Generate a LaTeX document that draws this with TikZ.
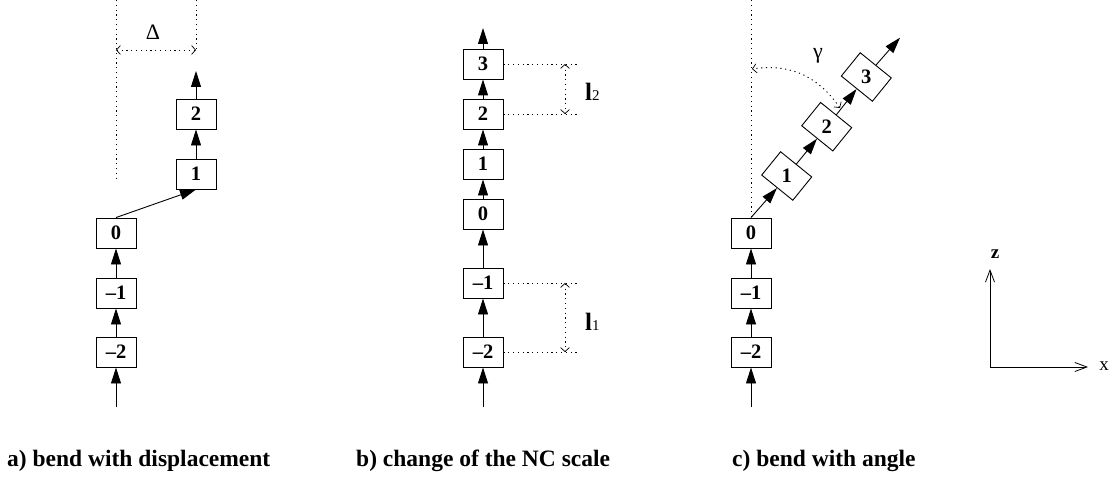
\documentclass[tikz,border=0pt]{standalone}
\usepackage{fontspec}
\setmainfont{Liberation Serif}
\usetikzlibrary{arrows.meta}
\tikzset{
  nc/.style={draw, line width=0.9pt, minimum width=40pt, minimum height=30pt, inner sep=0pt,
    font=\bfseries\fontsize{20.5}{20.5}\selectfont},
  nctext/.style={inner sep=0pt, font=\bfseries\fontsize{20.5}{20.5}\selectfont},
  linkarr/.style={line width=0.9pt, -{Triangle[length=16pt,width=10pt]}},
  guide/.style={line width=0.9pt, dash pattern=on 1.2pt off 3.6pt},
  dimarr/.style={guide, {Straight Barb[length=4pt,width=9pt,line width=0.7pt]}-{Straight Barb[length=4pt,width=9pt,line width=0.7pt]}},
  axisarr/.style={line width=0.9pt, -{Straight Barb[length=12pt,width=9pt,line width=0.8pt]}},
  captxt/.style={anchor=base west, inner sep=0pt, font=\bfseries\fontsize{23.5}{24}\selectfont},
  lab/.style={inner sep=0pt, font=\fontsize{22}{22}\selectfont}
}
\begin{document}
\begin{tikzpicture}[x=1pt,y=-1pt]
\useasboundingbox (0,0) rectangle (1115,476);

% ---------- panel a ----------
\node[nc] (am2) at (116,352) {--2};
\node[nc] (am1) at (116,293) {--1};
\node[nc] (a0)  at (116,233) {0};
\node[nc] (a1)  at (196,174) {1};
\node[nc] (a2)  at (196,114) {2};
\coordinate (abot) at (116,407);
\coordinate (atop) at (196,71);
\draw[linkarr] (abot) -- (am2.south);
\draw[linkarr] (am2) -- (am1);
\draw[linkarr] (am1) -- (a0);
\draw[linkarr] (a0.north) -- (a1.south);
\draw[linkarr] (a1) -- (a2);
\draw[linkarr] (a2.north) -- (atop);
\coordinate (aL0) at (116,0);
\coordinate (aL1) at (116,178);
\coordinate (aR0) at (196,0);
\coordinate (aR1) at (196,50);
\coordinate (aD0) at (116,50);
\draw[guide] (aL0) -- (aL1);
\draw[guide] (aR0) -- (aR1);
\draw[dimarr] (aD0) -- (aR1);
\node[lab] (delta) at (153,32) {Δ};
\node[captxt] (capa) at (7,466) {a) bend with displacement};

% ---------- panel b ----------
\node[nc] (bm2) at (483,352) {--2};
\node[nc] (bm1) at (483,283) {--1};
\node[nc] (b0)  at (483,214) {0};
\node[nc] (b1)  at (483,164) {1};
\node[nc] (b2)  at (483,114) {2};
\node[nc] (b3)  at (483,64)  {3};
\coordinate (bbot) at (483,407);
\coordinate (btop) at (483,28);
\draw[linkarr] (bbot) -- (bm2.south);
\draw[linkarr] (bm2) -- (bm1);
\draw[linkarr] (bm1) -- (b0);
\draw[linkarr] (b0) -- (b1);
\draw[linkarr] (b1) -- (b2);
\draw[linkarr] (b2) -- (b3);
\draw[linkarr] (b3.north) -- (btop);
\coordinate (g3) at (578,64);
\coordinate (g2) at (578,114);
\coordinate (gm1) at (578,283);
\coordinate (gm2) at (578,352);
\coordinate (d3) at (565,64);
\coordinate (d2) at (565,114);
\coordinate (dm1) at (565,283);
\coordinate (dm2) at (565,352);
\draw[guide] (b3.east) -- (g3);
\draw[guide] (b2.east) -- (g2);
\draw[guide] (bm1.east) -- (gm1);
\draw[guide] (bm2.east) -- (gm2);
\draw[dimarr] (d3) -- (d2);
\draw[dimarr] (dm1) -- (dm2);
\node[lab, anchor=base west] (l2) at (585,101) {{\fontsize{25}{25}\selectfont\textbf{l}}{\fontsize{15}{15}\selectfont 2}};
\node[lab, anchor=base west] (l1) at (585,330) {{\fontsize{25}{25}\selectfont\textbf{l}}{\fontsize{15}{15}\selectfont 1}};
\node[captxt] (capb) at (356,466) {b) change of the NC scale};

% ---------- panel c ----------
\node[nc] (cm2) at (751,352) {--2};
\node[nc] (cm1) at (751,293) {--1};
\node[nc] (c0)  at (751,233) {0};
\node[nc, rotate=-39] (c1) at (786.7,176) {};
\node[nc, rotate=-39] (c2) at (826.7,126.7) {};
\node[nc, rotate=-39] (c3) at (866.3,77) {};
\node[nctext] (t1) at (c1) {1};
\node[nctext] (t2) at (c2) {2};
\node[nctext] (t3) at (c3) {3};
\coordinate (cbot) at (751,407);
\coordinate (ctop) at (900,37.7);
\draw[linkarr] (cbot) -- (cm2.south);
\draw[linkarr] (cm2) -- (cm1);
\draw[linkarr] (cm1) -- (c0);
\draw[linkarr] (c0.north) -- (c1.south);
\draw[linkarr] (c1.north) -- (c2.south);
\draw[linkarr] (c2.north) -- (c3.south);
\draw[linkarr] (c3.north) -- (ctop);
\coordinate (cv0) at (751,0);
\draw[guide] (cv0) -- (c0.north);
\coordinate (gs) at (840,108);
\coordinate (ge) at (752,69);
\draw[dimarr] (gs) .. controls (815,72) and (785,64) .. (ge);
\node[lab] (gamma) at (818,56) {γ};
\node[captxt] (capc) at (732,466) {c) bend with angle};

% ---------- axes ----------
\coordinate (o) at (990,367);
\coordinate (zend) at (990,269);
\coordinate (xend) at (1088,367);
\draw[axisarr] (o) -- (zend);
\draw[axisarr] (o) -- (xend);
\node[lab, font=\bfseries\fontsize{19}{19}\selectfont] (zl) at (995,254) {z};
\node[lab, font=\fontsize{19}{19}\selectfont] (xl) at (1104,366) {x};
\end{tikzpicture}
\end{document}
